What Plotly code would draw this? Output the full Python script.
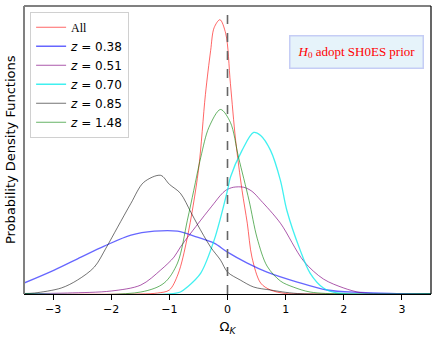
import plotly.graph_objects as go

# Omega_K posterior curves (x, density)
all_x = [-3.5, -1.5, -1.2, -1.0, -0.85, -0.69, -0.5, -0.38, -0.29, -0.23, -0.13, -0.03, 0.05, 0.14, 0.25, 0.34, 0.42, 0.57, 0.74, 1.0, 1.5, 3.5]
all_y = [0, 0, 0.01, 0.04, 0.2, 0.57, 1.24, 2.0, 2.44, 2.67, 2.75, 2.61, 2.11, 1.54, 1.04, 0.71, 0.37, 0.11, 0.04, 0.005, 0, 0]

z038_x = [-3.5, -2.98, -2.52, -2.12, -1.66, -1.26, -0.86, -0.52, -0.23, 0.0, 0.34, 0.68, 1.2, 1.71, 2.28, 2.8, 3.5]
z038_y = [0.11, 0.24, 0.37, 0.48, 0.59, 0.63, 0.63, 0.57, 0.51, 0.42, 0.31, 0.22, 0.12, 0.04, 0.015, 0.005, 0]

z051_x = [-3.5, -2.75, -2.0, -1.49, -1.15, -0.92, -0.81, -0.46, -0.23, -0.12, -0.03, 0.1, 0.28, 0.42, 0.57, 0.91, 1.31, 1.65, 2.0, 2.28, 2.6, 3.5]
z051_y = [0.003, 0.01, 0.03, 0.09, 0.24, 0.37, 0.47, 0.74, 0.91, 0.99, 1.04, 1.07, 1.07, 1.03, 0.94, 0.71, 0.33, 0.15, 0.06, 0.015, 0.003, 0]

z070_x = [-3.5, -1.0, -0.81, -0.69, -0.46, -0.23, 0.0, 0.05, 0.25, 0.45, 0.57, 0.74, 0.91, 1.02, 1.25, 1.42, 1.65, 1.88, 2.2, 3.5]
z070_y = [0, 0, 0.02, 0.07, 0.21, 0.54, 1.04, 1.17, 1.44, 1.62, 1.59, 1.44, 1.14, 0.84, 0.44, 0.21, 0.06, 0.01, 0, 0]

z085_x = [-3.5, -3.32, -2.86, -2.58, -2.29, -2.09, -1.89, -1.66, -1.44, -1.15, -1.0, -0.81, -0.63, -0.52, -0.29, -0.12, 0.0, 0.22, 0.45, 0.74, 1.2, 3.5]
z085_y = [0.005, 0.01, 0.06, 0.14, 0.27, 0.46, 0.67, 0.91, 1.12, 1.19, 1.10, 1.01, 0.82, 0.70, 0.47, 0.34, 0.22, 0.14, 0.07, 0.04, 0.005, 0]

z148_x = [-3.5, -1.49, -1.09, -0.86, -0.69, -0.58, -0.46, -0.32, -0.12, 0.05, 0.19, 0.37, 0.51, 0.68, 0.91, 1.13, 1.42, 2.0, 3.5]
z148_y = [0, 0.02, 0.11, 0.31, 0.74, 1.04, 1.37, 1.67, 1.85, 1.72, 1.37, 0.94, 0.56, 0.28, 0.13, 0.07, 0.02, 0, 0]

x_ticks = [-3, -2, -1, 0, 1, 2, 3]

series = [
    ('<span style="font-family:Liberation Serif">All</span>', all_x, all_y, "rgba(255,0,0,0.6)", 1),
    ("<i>z</i> = 0.38", z038_x, z038_y, "rgba(0,0,255,0.6)", 1.3),
    ("<i>z</i> = 0.51", z051_x, z051_y, "rgba(128,0,128,0.65)", 1),
    ("<i>z</i> = 0.70", z070_x, z070_y, "rgba(0,235,235,0.75)", 1.3),
    ("<i>z</i> = 0.85", z085_x, z085_y, "rgba(0,0,0,0.55)", 1),
    ("<i>z</i> = 1.48", z148_x, z148_y, "rgba(0,128,0,0.6)", 1),
]

fig = go.Figure()
for name, xs, ys, col, w in series:
    fig.add_trace(go.Scatter(x=xs, y=ys, mode="lines", name=name,
                             line=dict(color=col, width=w, shape="spline", smoothing=0.9)))

ymax = max(all_y) * 1.05

fig.add_shape(type="line", x0=0, x1=0, y0=0, y1=1, xref="x", yref="paper",
              line=dict(color="#666666", width=1.6, dash="dash"))
# spines: left/top grey, right black
fig.add_shape(type="line", x0=0, x1=0, y0=0, y1=1, xref="paper", yref="paper",
              line=dict(color="#808080", width=2))
fig.add_shape(type="line", x0=0, x1=1, y0=1, y1=1, xref="paper", yref="paper",
              line=dict(color="#808080", width=2))
fig.add_shape(type="line", x0=1, x1=1, y0=0, y1=1, xref="paper", yref="paper",
              line=dict(color="black", width=1.2))

fig.add_annotation(x=0.816, y=0.84, xref="paper", yref="paper", showarrow=False,
                   xanchor="center", yanchor="middle",
                   text="<i>H</i><sub>0</sub> adopt SH0ES prior",
                   font=dict(family="Liberation Serif", size=13, color="red"),
                   bgcolor="#e6f3fa", bordercolor="#c5cdf5", borderwidth=1.5, borderpad=7)
fig.add_annotation(x=0, y=0.5, xref="paper", yref="paper", showarrow=False,
                   xanchor="center", yanchor="middle",
                   text="Probability Density Functions", textangle=-90, xshift=-14,
                   font=dict(family="DejaVu Sans", size=13, color="black"))

fig.update_layout(
    width=436, height=343,
    margin=dict(l=24, r=5, t=6, b=49),
    paper_bgcolor="white", plot_bgcolor="white",
    font=dict(family="DejaVu Sans", size=11, color="black"),
    xaxis=dict(range=[-3.5, 3.5], tickvals=x_ticks, showgrid=False, zeroline=False,
               showline=True, linecolor="black", linewidth=1.2,
               ticks="outside", ticklen=5, tickcolor="black",
               tickfont=dict(size=11),
               title=dict(text="Ω<sub><i>K</i></sub>", font=dict(size=13), standoff=6)),
    yaxis=dict(range=[0, ymax], showticklabels=False, showgrid=False, zeroline=False,
               ticks=""),
    legend=dict(x=0.015, y=0.98, xanchor="left", yanchor="top",
                bgcolor="white", bordercolor="#d0d0d0", borderwidth=1,
                font=dict(family="DejaVu Sans", size=12)),
    showlegend=True,
)

fig.write_html("out.html", config={"displayModeBar": False},
               post_script="document.body.style.margin='0';")
